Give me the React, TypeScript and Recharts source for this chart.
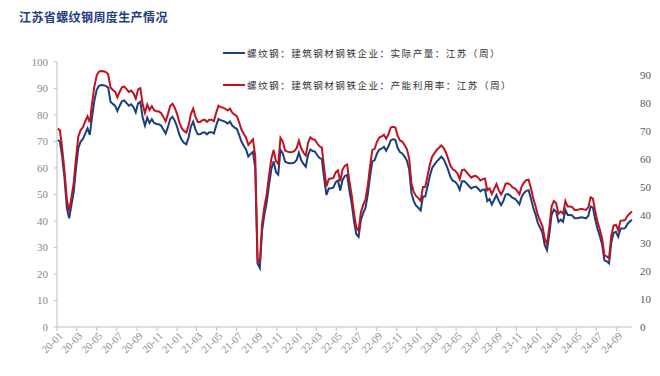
import React from 'react';
import { LineChart, Line, XAxis, YAxis } from 'recharts';

const TITLE = '江苏省螺纹钢周度生产情况';
const SERIES_NAMES = [
  '螺纹钢：建筑钢材钢铁企业：实际产量：江苏（周）',
  '螺纹钢：建筑钢材钢铁企业：产能利用率：江苏（周）',
];
const SERIES_COLORS = ['#1b3f7e', '#c0121f'];

// weekly observations starting 2020-01-03
const FIRST_WEEK = [2020, 1, 3];

// 实际产量（左轴）
const production = [
  70.5, 70.0, 64.0, 56.0, 45.0, 41.0, 46.0, 51.0, 60.0, 67.5,
  70.0, 71.0, 73.0, 75.0, 72.5, 79.5, 85.5, 89.5, 91.0, 91.3,
  91.2, 91.0, 90.3, 85.0, 84.2, 83.5, 81.5, 83.5, 85.2, 85.5,
  84.5, 83.5, 84.0, 83.0, 81.0, 84.4, 85.0, 79.0, 76.0, 79.0,
  77.0, 78.4, 77.0, 76.6, 76.5, 76.0, 74.5, 73.0, 75.5, 78.5,
  79.3, 77.8,
  75.5, 72.5, 70.6, 69.5, 68.9, 71.5, 75.6, 77.5, 74.5, 72.7,
  72.7, 73.3, 73.5, 72.7, 73.5, 73.5, 73.0, 76.0, 78.5, 78.0,
  77.8, 77.4, 76.8, 77.5, 76.0, 75.2, 74.8, 72.5, 70.0, 68.4,
  67.0, 64.3, 65.3, 66.1, 60.0, 24.0, 22.3, 36.6, 42.5, 47.0,
  53.5, 59.5, 62.5, 58.5, 57.5, 66.8, 65.5, 62.4, 62.0, 61.8,
  61.8, 62.0,
  63.0, 65.8, 63.0, 61.5, 60.5, 65.0, 67.0, 66.4, 66.2, 64.8,
  63.8, 63.3, 56.0, 49.8, 52.3, 52.4, 52.6, 54.6, 55.3, 51.5,
  55.5, 57.0, 57.4, 51.5, 46.5, 40.0, 35.0, 34.0, 40.5, 43.0,
  45.0, 50.0, 57.0, 62.5, 63.0, 65.5, 67.0, 67.3, 68.0, 66.5,
  68.2, 70.5, 70.8, 70.6, 67.5, 66.0, 65.5, 64.3, 62.8, 59.5,
  50.5, 47.5,
  45.8, 45.0, 44.0, 49.2, 49.2, 53.0, 57.0, 60.0, 61.3, 62.5,
  63.3, 64.3, 63.3, 61.5, 59.2, 56.5, 55.2, 54.8, 53.8, 51.8,
  55.0, 55.0, 54.2, 53.2, 52.3, 52.8, 53.0, 52.3, 51.2, 51.8,
  51.9, 47.5, 48.3, 46.2, 48.0, 49.8, 47.6, 46.0, 47.5, 50.0,
  50.2, 49.6, 48.7, 48.4, 47.5, 46.3, 49.2, 50.6, 51.4, 51.6,
  48.5, 45.0,
  42.5, 39.3, 37.5, 35.5, 31.0, 29.0, 35.0, 42.3, 44.3, 43.5,
  39.7, 40.5, 39.7, 44.2, 42.3, 42.3, 42.1, 41.0, 41.0, 41.2,
  41.4, 41.2, 41.0, 42.0, 45.5, 45.0, 40.5, 37.0, 34.3, 31.0,
  25.2, 24.8, 24.0, 32.0, 35.5, 35.9, 34.0, 37.2, 37.2, 37.3,
  38.8, 39.8, 40.4,
];

// 产能利用率（右轴）
const utilization = [
  70.8, 70.2, 63.5, 55.5, 45.5, 41.3, 46.3, 51.5, 60.5, 68.0,
  70.3, 71.3, 73.4, 75.2, 73.0, 80.0, 86.0, 89.8, 91.2, 91.4,
  91.3, 91.0, 90.2, 85.5, 84.6, 84.0, 82.0, 84.0, 85.6, 85.8,
  84.9, 83.9, 84.4, 83.4, 81.5, 84.8, 85.3, 79.5, 76.4, 79.4,
  77.5, 78.8, 77.4, 77.0, 76.9, 76.4, 75.0, 73.4, 76.0, 79.0,
  79.7, 78.2,
  76.0, 73.0, 71.0, 70.0, 69.4, 72.0, 76.0, 78.0, 75.0, 73.2,
  73.2, 73.8, 74.0, 73.2, 74.0, 74.0, 73.5, 76.5, 79.0, 78.5,
  78.3, 77.9, 77.3, 78.0, 76.5, 75.8, 75.3, 73.0, 70.5, 69.0,
  67.6, 65.0, 66.0, 67.0, 61.0, 24.5, 22.5, 37.0, 43.0, 47.5,
  54.0, 60.0, 63.2, 59.2, 58.2, 67.5, 66.2, 63.0, 62.6, 62.4,
  62.5, 62.8,
  63.8, 66.5, 63.8, 62.2, 61.2, 65.8, 67.7, 67.0, 66.8, 65.5,
  64.5, 64.0, 56.5, 50.2, 52.8, 53.0, 53.2, 55.2, 55.9, 52.0,
  56.2, 57.6, 58.0, 52.0, 47.0, 40.5, 35.5, 34.4, 41.0, 43.6,
  45.6, 50.6, 57.6, 63.2, 63.6, 66.2, 67.6, 68.0, 68.6, 67.2,
  68.8, 71.2, 71.5, 71.2, 68.2, 66.6, 66.2, 65.0, 63.5, 60.2,
  51.2, 48.2,
  46.8, 46.0, 45.0, 50.0, 50.0, 54.0, 58.0, 60.8, 62.0, 63.2,
  64.0, 64.8, 64.0, 62.3, 60.0, 57.5, 56.3, 55.8, 54.8, 52.8,
  56.0, 56.2, 55.3, 54.3, 53.3, 53.8, 54.0, 53.3, 52.3, 52.8,
  53.0, 48.8, 49.5, 47.5, 49.3, 51.0, 48.8, 47.3, 48.8, 51.2,
  51.3, 50.8, 49.8, 49.5, 48.6, 47.4, 50.2, 51.6, 52.4, 52.6,
  49.5, 46.0,
  43.2, 40.0, 38.0, 36.0, 31.5, 29.6, 35.6, 43.0, 45.0, 44.2,
  40.4, 41.2, 40.4, 45.0, 43.0, 43.0, 42.8, 41.8, 41.8, 42.0,
  42.2, 42.0, 41.8, 42.8, 46.3, 45.8, 41.2, 37.6, 34.8, 31.5,
  25.6, 25.2, 24.5, 32.6, 36.2, 36.5, 34.6, 37.9, 38.0, 38.2,
  39.6, 40.5, 41.2,
];

const xTickLabels = [
  '20-01', '20-03', '20-05', '20-07', '20-09', '20-11',
  '21-01', '21-03', '21-05', '21-07', '21-09', '21-11',
  '22-01', '22-03', '22-05', '22-07', '22-09', '22-11',
  '23-01', '23-03', '23-05', '23-07', '23-09', '23-11',
  '24-01', '24-03', '24-05', '24-07', '24-09',
];
const leftTicks = [0, 10, 20, 30, 40, 50, 60, 70, 80, 90, 100];
const rightTicks = [0, 10, 20, 30, 40, 50, 60, 70, 80, 90];
const leftDomain = [0, 100];
const rightDomain = [0, 94.6];

const DAY_MS = 86400000;
const ORIGIN = Date.UTC(2020, 0, 1);
const dayOf = (y: number, m: number, d: number) => Math.round((Date.UTC(y, m - 1, d) - ORIGIN) / DAY_MS);
const firstDay = dayOf(FIRST_WEEK[0], FIRST_WEEK[1], FIRST_WEEK[2]);

const data = production.map((p, i) => ({
  day: firstDay + 7 * i,
  production: p,
  utilization: utilization[i],
}));

const xTicks = xTickLabels.map((l) => {
  const [yy, mm] = l.split('-');
  return dayOf(2000 + Number(yy), Number(mm), 1);
});
const labelByDay = new Map<number, string>(xTicks.map((d, i) => [d, xTickLabels[i]]));

const SERIF = '"Liberation Serif", "Times New Roman", serif';
const CJK = '"Noto Sans CJK SC", sans-serif';

const RotTick = (props: any) => {
  const { x, y, payload } = props;
  return (
    <g transform={`translate(${x},${y})`}>
      <text
        x={2}
        y={0}
        dy={7}
        textAnchor="end"
        transform="rotate(-45)"
        fontFamily={SERIF}
        fontSize={10.5}
        fill="#8a8a8a"
      >
        {labelByDay.get(payload.value) ?? ''}
      </text>
    </g>
  );
};

const ChartLegend = () => (
  <div style={{ position: 'absolute', left: 223, top: 46, fontFamily: CJK, fontSize: 9.6, color: '#333' }}>
    {SERIES_NAMES.map((name, i) => (
      <div key={name} style={{ display: 'flex', alignItems: 'center', height: 14, marginBottom: i === 0 ? 18 : 0 }}>
        <span style={{ display: 'inline-block', width: 22, height: 2, background: SERIES_COLORS[i], marginRight: 2 }} />
        <span style={{ whiteSpace: 'nowrap', letterSpacing: 1.45 }}>{name}</span>
      </div>
    ))}
  </div>
);

export default function App() {
  return (
    <div style={{ position: 'absolute', left: 0, top: 0, width: 660, height: 376, background: '#fff' }}>
      <div
        style={{
          position: 'absolute',
          left: 19,
          top: 8,
          fontFamily: CJK,
          fontWeight: 700,
          fontSize: 12,
          color: '#1f3c84',
          letterSpacing: 0.4,
          whiteSpace: 'nowrap',
        }}
      >
        {TITLE}
      </div>
      <LineChart width={660} height={376} data={data} margin={{ top: 62, right: 0, bottom: 4, left: 0 }}>
        <XAxis
          dataKey="day"
          type="number"
          domain={[0, 'dataMax']}
          ticks={xTicks}
          interval={0}
          height={45}
          tick={<RotTick />}
          tickSize={4}
          tickMargin={2}
          axisLine={{ stroke: '#bfbfbf' }}
          tickLine={{ stroke: '#bfbfbf' }}
        />
        <YAxis
          yAxisId="left"
          orientation="left"
          width={57}
          domain={leftDomain}
          ticks={leftTicks}
          interval={0}
          tickSize={3}
          tickMargin={6}
          axisLine={{ stroke: '#bfbfbf' }}
          tickLine={{ stroke: '#bfbfbf' }}
          tick={{ fontFamily: SERIF, fontSize: 11, fill: '#8a8a8a' }}
        />
        <YAxis
          yAxisId="right"
          orientation="right"
          width={28}
          domain={rightDomain}
          ticks={rightTicks}
          interval={0}
          allowDataOverflow
          tickSize={0}
          tickMargin={8}
          axisLine={false}
          tickLine={false}
          tick={{ fontFamily: SERIF, fontSize: 11, fill: '#595959', textAnchor: 'start' }}
        />
        <Line
          yAxisId="left"
          type="linear"
          dataKey="production"
          name={SERIES_NAMES[0]}
          stroke={SERIES_COLORS[0]}
          strokeWidth={2}
          dot={false}
          isAnimationActive={false}
        />
        <Line
          yAxisId="right"
          type="linear"
          dataKey="utilization"
          name={SERIES_NAMES[1]}
          stroke={SERIES_COLORS[1]}
          strokeWidth={2}
          dot={false}
          isAnimationActive={false}
        />
      </LineChart>
      <ChartLegend />
    </div>
  );
}
